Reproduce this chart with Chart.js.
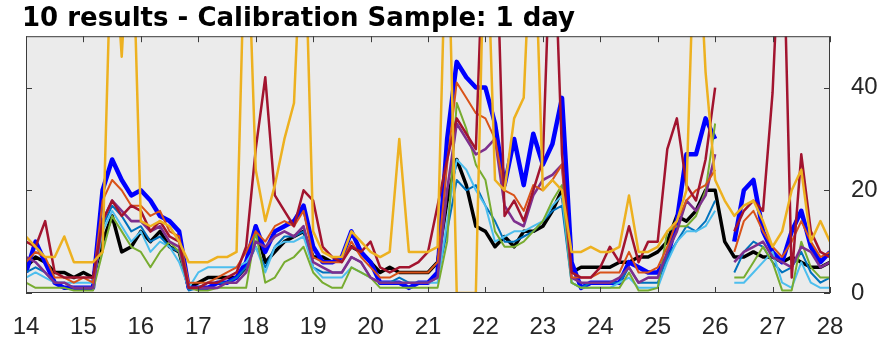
<!DOCTYPE html>
<html lang="en">
<head>
    <meta charset="UTF-8">
    <title>Calibration sample chart</title>
    <style>
        body { margin: 0; background: #fff; }
        .chartBox { width: 886px; height: 341px; }
    </style>
</head>
<body>
<div class="chartBox">
    <canvas id="myChart"></canvas>
</div>
<script src="https://cdn.jsdelivr.net/npm/chart.js"></script>
<script>
    // time axis: one value every 4 hours, day 14 to day 28
    const days = [];
    for (let i = 0; i <= 84; i++) days.push(14 + i / 6);

    // series values, 6 per day (00h 04h 08h 12h 16h 20h), last one is day 28
    const black = [
        5, 7, 6, 4, 4, 3,   4, 3, 10, 15, 8, 9,   12, 10, 12, 9, 8, 1,   2, 3, 3, 3, 3, 5,
        13, 6, 8, 10, 11, 12,   7, 7, 6, 7, 9, 8,   6, 4, 5, 4, 4, 4,   4, 6, 18, 26, 21, 13,
        12, 9, 11, 9, 12, 12,   13, 16, 20, 4, 5, 5,   5, 5, 6, 6, 7, 7,   8, 10, 15, 14, 16, 20,
        20, 10, 7, 7, 8, 7,   7, 6, 7, 6, 5, 5,   6
    ];
    const blue = [
        4, 10, 6, 2, 1, 1,   1, 1, 20, 26, 22, 19,   20, 18, 15, 14, 12, 1,   1, 1, 2, 2, 3, 6,
        13, 8, 12, 13, 14, 17,   9, 6, 6, 7, 12, 8,   6, 2, 2, 2, 1, 2,   2, 4, 30, 45, 42, 40,
        40, 33, 21, 30, 21, 31,   25, 29, 38, 6, 1, 2,   2, 2, 2, 6, 5, 4,   4, 7, 14, 27, 27, 34,
        30, null, 10, 20, 22, 12,   8, 6, 12, 16, 9, 6,   8
    ];
    const matBlue = [
        4, 5, 4, 2, 2, 1,   1, 1, 13, 17, 15, 12,   13, 10, 11, 9, 8, 0.5,   1, 2, 2, 2, 3, 5,
        9, 5, 9, 11, 11, 12,   5, 4, 4, 4, 7, 6,   3, 2, 2, 3, 2, 2,   2, 3, 12, 22, 20, 21,
        17, 14, 10, 10, 11, 12,   14, 16, 17, 2, 1, 2,   2, 2, 2, 5, 2, 2,   2, 7, 10, 13, 12, 14,
        18, null, 4, 8, 10, 9,   6, 4, 5, 8, 4, 2,   3
    ];
    const orange = [
        6, 8, 7, 3, 3, 2,   3, 2, 18, 22, 20, 17,   17, 15, 16, 12, 11, 2,   2, 2, 3, 4, 5, 8,
        12, 10, 13, 14, 13, 16,   7, 6, 6, 6, 10, 7,   5, 3, 3, 4, 4, 4,   4, 6, 25, 41, 38, 35,
        34, 30, 20, 19, 16, 21,   20, 22, 25, 3, 3, 3,   4, 4, 4, 8, 4, 4,   5, 9, 14, 18, 20, 21,
        24, null, 8, 14, 16, 12,   9, 7, 10, 14, 10, 7,   8
    ];
    const yellow = [
        11, 9, 7, 7, 11, 6,   6, 6, 8, 75, 46, 80,   14, 13, 14, 13, 10, 6,   6, 6, 7, 7, 8, 80,
        24, 14, 21, 30, 37, 80,   12, 8, 7, 7, 12, 10,   8, 7, 8, 30, 8, 8,   8, 9, 80, 0, 0, 0,
        80, 22, 20, 34, 38, 80,   20, 22, 20, 8, 8, 9,   8, 8, 9, 19, 8, 8,   9, 12, 14, 20, 80, 43,
        22, 18, 15, 17, 18, 14,   9, 12, 20, 24, 10, 14,   10
    ];
    const purple = [
        7, 6, 4, 2, 2, 1,   1, 1, 14, 18, 16, 14,   14, 12, 13, 10, 9, 1,   1, 1, 1, 2, 2, 4,
        10, 9, 11, 12, 11, 13,   6, 5, 4, 4, 7, 6,   3, 2, 2, 2, 2, 2,   2, 3, 20, 33, 30, 27,
        28, 30, 17, 14, 13, 19,   22, 23, 25, 3, 2, 2,   2, 2, 3, 5, 2, 3,   3, 8, 12, 18, 16, 19,
        27, null, 6, 8, 9, 10,   7, 6, 5, 9, 8, 5,   6
    ];
    const green = [
        2, 1, 1, 1, 1, 0.5,   0.5, 0.5, 8, 15, 12, 9,   8, 5, 8, 10, 8, 1,   0.5, 0.5, 1, 1, 1, 1,
        12, 2, 3, 6, 7, 9,   4, 2, 1, 1, 5, 4,   3, 1, 1, 1, 1, 1,   1, 1, 10, 37, 32, 25,
        22, 12, 9, 9, 10, 12,   14, 18, 21, 2, 1, 1,   1, 1, 1, 4, 0.5, 0.5,   1, 12, 13, 13, 15, 20,
        33, null, 3, 3, 6, 9,   6, 0.5, 0.5, 10, 5, 3,   3
    ];
    const cyan = [
        3, 4, 3, 2, 2, 2,   2, 2, 12, 16, 13, 10,   12, 8, 10, 9, 6, 1,   4, 5, 5, 5, 5, 6,
        9, 4, 9, 10, 10, 11,   5, 3, 3, 3, 5, 4,   3, 2, 2, 2, 2, 2,   2, 2, 14, 26, 24, 20,
        17, 10, 11, 12, 12, 13,   14, 17, 19, 2, 1, 1,   1, 1, 2, 3, 1, 1,   1, 6, 10, 12, 12, 13,
        16, null, 2, 2, 4, 6,   8, 2, 1, 6, 2, 1,   1
    ];
    const darkRed = [
        10, 9, 14, 4, 3, 3,   3, 3, 14, 18, 15, 17,   16, 12, 14, 11, 10, 1,   1, 2, 2, 3, 4, 9,
        28, 42, 19, 16, 13, 20,   18, 9, 7, 6, 9, 8,   10, 5, 4, 5, 5, 6,   8, 17, 26, 34, 31, 28,
        80, 80, 15, 18, 14, 20,   26, 80, 27, 4, 3, 3,   5, 9, 6, 13, 6, 10,   10, 28, 34, 21, 18, 26,
        40, null, 12, 16, 18, 16,   39, 80, 3, 27, 12, 8,   7
    ];

    const titleText = '10 results - Calibration Sample: 1 day';
    const fontFamily = '"Liberation Sans", Arial, Helvetica, sans-serif';

    function series(values, color, width) {
        return {
            data: days.map((d, i) => ({x: d, y: values[i]})),
            borderColor: color,
            borderWidth: width,
            pointRadius: 0,
            tension: 0,
            fill: false,
            spanGaps: false,
            borderJoinStyle: 'round'
        };
    }

    // first dataset is drawn on top
    const data = {
        datasets: [
            series(yellow, '#EDB120', 2.5),
            series(darkRed, '#A2142F', 2.5),
            series(orange, '#D95319', 2),
            series(purple, '#7E2F8E', 2.6),
            series(green, '#77AC30', 2),
            series(cyan, '#4DBEEE', 2),
            series(matBlue, '#0072BD', 2),
            series(blue, '#0000FF', 4.5),
            series(black, '#000000', 3.5)
        ]
    };

    // grey plot background, axes box and inward ticks like the original figure
    const frame = {
        id: 'frame',
        beforeDatasetsDraw(chart) {
            const {ctx, chartArea: a} = chart;
            ctx.save();
            ctx.fillStyle = '#ebebeb';
            ctx.fillRect(a.left, a.top, a.right - a.left, a.bottom - a.top);
            ctx.restore();
        },
        afterDatasetsDraw(chart) {
            const {ctx, chartArea: a, scales} = chart;
            ctx.save();
            ctx.strokeStyle = '#3c3c3c';
            ctx.lineWidth = 1;
            ctx.strokeRect(a.left + 0.5, a.top + 0.5, a.right - a.left - 1, a.bottom - a.top - 1);
            ctx.beginPath();
            scales.x.ticks.forEach(t => {
                const px = Math.round(scales.x.getPixelForValue(t.value)) + 0.5;
                ctx.moveTo(px, a.bottom); ctx.lineTo(px, a.bottom - 6);
                ctx.moveTo(px, a.top); ctx.lineTo(px, a.top + 6);
            });
            scales.y.ticks.forEach(t => {
                const py = Math.round(scales.y.getPixelForValue(t.value)) + 0.5;
                ctx.moveTo(a.left, py); ctx.lineTo(a.left + 6, py);
                ctx.moveTo(a.right, py); ctx.lineTo(a.right - 6, py);
            });
            ctx.stroke();
            ctx.restore();
        }
    };

    const config = {
        type: 'line',
        data: data,
        plugins: [frame],
        options: {
            responsive: true,
            maintainAspectRatio: false,
            animation: false,
            layout: { padding: { left: 22, right: 0, top: 0, bottom: 0 } },
            plugins: {
                legend: { display: false },
                tooltip: { enabled: false },
                title: {
                    display: true,
                    text: titleText,
                    align: 'start',
                    color: '#000',
                    font: { family: '"DejaVu Sans", Arial, sans-serif', size: 26, weight: 'bold' },
                    padding: { top: 4, bottom: 1 }
                }
            },
            scales: {
                x: {
                    type: 'linear',
                    min: 14,
                    max: 28,
                    grid: { display: false },
                    border: { display: false },
                    ticks: {
                        stepSize: 1,
                        maxRotation: 0,
                        autoSkip: false,
                        padding: 12,
                        color: '#262626',
                        font: { family: fontFamily, size: 24 }
                    },
                    afterFit(s) { s.height = 48; s.paddingLeft = 26; }
                },
                y: {
                    position: 'right',
                    min: 0,
                    max: 50,
                    grid: { display: false },
                    border: { display: false },
                    ticks: {
                        stepSize: 20,
                        includeBounds: false,
                        padding: 13,
                        color: '#262626',
                        font: { family: fontFamily, size: 24 }
                    },
                    afterFit(s) { s.width = 56; }
                }
            }
        }
    };

    const myChart = new Chart(document.getElementById('myChart'), config);
</script>
</body>
</html>
